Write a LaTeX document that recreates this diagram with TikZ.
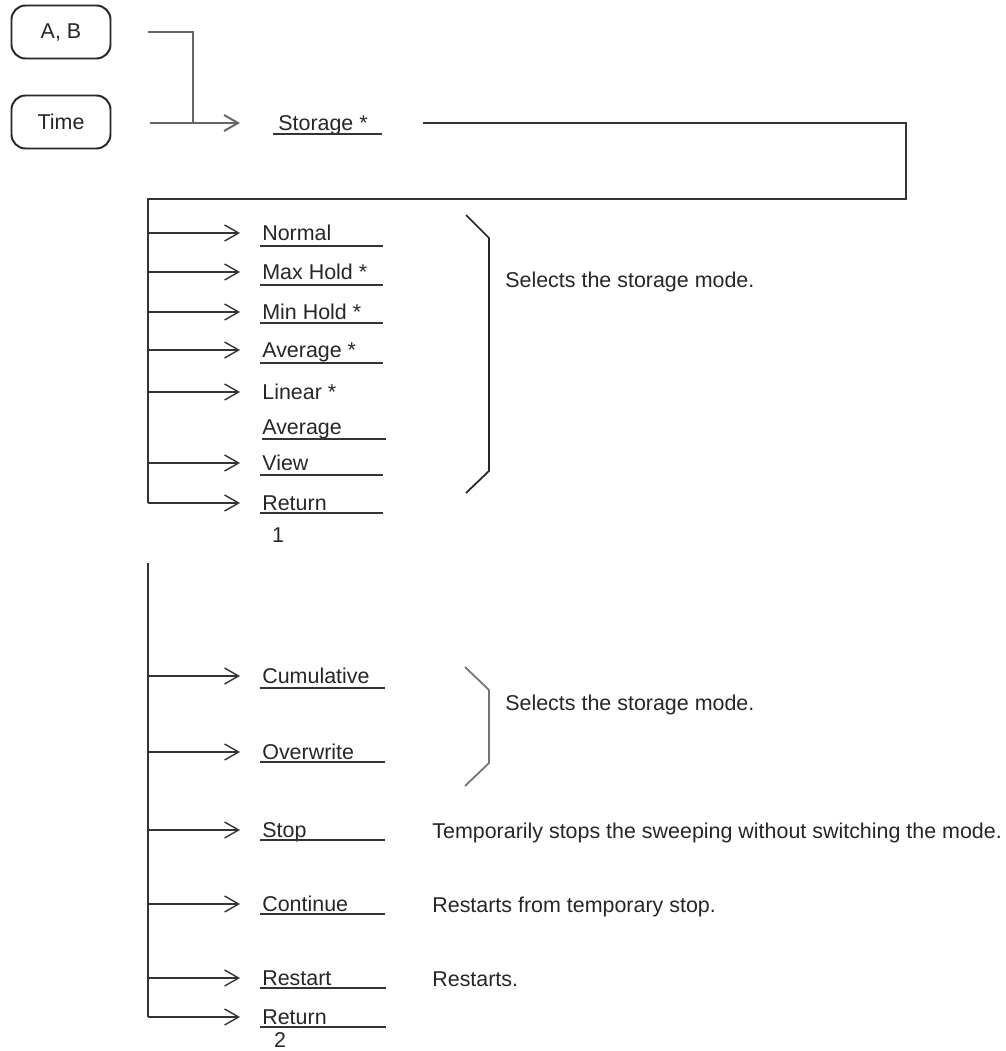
\documentclass[tikz,border=0pt]{standalone}
\usepackage{fontspec}
\setmainfont{Liberation Sans}
\usetikzlibrary{arrows.meta}

\begin{document}
\begin{tikzpicture}[x=0.02cm, y=-0.02cm,
    every node/.style={font=\fontsize{12.2}{14}\selectfont, text=black!85},
    keybox/.style={draw=black!85, line width=1.1pt, rounded corners=8pt, minimum width=1.98cm, minimum height=1.06cm},
    item/.style={anchor=west, inner xsep=0.44cm, inner ysep=0pt, text height=8.7pt, text depth=0pt},
    note/.style={anchor=base west, inner sep=0pt},
    bus/.style={black!80, line width=1.1pt},
    link/.style={black!60, line width=1.1pt},
    feed/.style={-{Straight Barb[length=2.8mm,width=3.2mm]}, black!80, line width=0.8pt},
    uline/.style={black!80, line width=1.1pt},
    brace/.style={black!85, line width=1pt}]
    \useasboundingbox (0,0) rectangle (1005,1051);
    % Keys
    \node[keybox] (ab) at (61,32) {A, B};
    \node[keybox] (time) at (61,122) {Time};
    \coordinate (join) at (193,123);
    % Storage
    \node[item, inner xsep=0.76cm] (storage) at (240,123) {Storage *};
    \draw[uline] (273,134) -- (382,134);
    \draw[link] ([xshift=0.74cm]ab.east) -| (join);
    \draw[feed, black!60, line width=1.1pt] ([xshift=0.78cm]time.east |- storage.west) -- (storage.west);
    \coordinate (stotail) at (423,123);
    \coordinate (corner) at (906,199);
    \coordinate (bus1) at (148,199);
    % Storage mode menu
    \node[item] (normal) at (240,233) {Normal};
    \draw[uline] (260,246) -- (383,246);
    \node[item] (maxhold) at (240,272) {Max Hold *};
    \draw[uline] (260,285) -- (383,285);
    \node[item] (minhold) at (240,312) {Min Hold *};
    \draw[uline] (260,323) -- (383,323);
    \node[item] (average) at (240,350) {Average *};
    \draw[uline] (260,363) -- (383,363);
    \node[item] (linear) at (240,392) {Linear *};
    \node[note] (linavg) at (262,434) {Average};
    \draw[uline] (262,439) -- (386,439);
    \node[item] (view) at (240,463) {View};
    \draw[uline] (260,475) -- (383,475);
    \node[item] (return1) at (240,503) {Return};
    \draw[uline] (260,513) -- (383,513);
    \node (one) at (278,535) {1};
    \draw[bus] (stotail) -| (corner) -- (bus1) -- (bus1 |- return1.west);
    \draw[feed] (bus1 |- normal.west) -- (normal.west);
    \draw[feed] (bus1 |- maxhold.west) -- (maxhold.west);
    \draw[feed] (bus1 |- minhold.west) -- (minhold.west);
    \draw[feed] (bus1 |- average.west) -- (average.west);
    \draw[feed] (bus1 |- linear.west) -- (linear.west);
    \draw[feed] (bus1 |- view.west) -- (view.west);
    \draw[feed] (bus1 |- return1.west) -- (return1.west);
    \draw[brace] (466,215) -- (489,238) -- (489,471) -- (466,493);
    \node[note] (sel1) at (505,287) {Selects the storage mode.};
    % Sweep menu
    \coordinate (bus2) at (148,563);
    \node[item] (cumul) at (240,676) {Cumulative};
    \draw[uline] (260,688) -- (385,688);
    \node[item] (overwr) at (240,752) {Overwrite};
    \draw[uline] (260,762) -- (385,762);
    \node[item] (stop) at (240,830) {Stop};
    \draw[uline] (260,840) -- (385,840);
    \node[item] (cont) at (240,904) {Continue};
    \draw[uline] (260,914) -- (385,914);
    \node[item] (restart) at (240,978) {Restart};
    \draw[uline] (260,988) -- (386,988);
    \node[item] (return2) at (240,1017) {Return};
    \draw[uline] (260,1027) -- (386,1027);
    \node (two) at (280,1040) {2};
    \draw[bus] (bus2) -- (bus2 |- return2.west);
    \draw[feed] (bus2 |- cumul.west) -- (cumul.west);
    \draw[feed] (bus2 |- overwr.west) -- (overwr.west);
    \draw[feed] (bus2 |- stop.west) -- (stop.west);
    \draw[feed] (bus2 |- cont.west) -- (cont.west);
    \draw[feed] (bus2 |- restart.west) -- (restart.west);
    \draw[feed] (bus2 |- return2.west) -- (return2.west);
    \draw[brace, black!55] (465,667) -- (489,690) -- (489,763) -- (465,786);
    \node[note] (sel2) at (505,710) {Selects the storage mode.};
    \node[note] (stopnote) at (432,838) {Temporarily stops the sweeping without switching the mode.};
    \node[note] (contnote) at (432,912) {Restarts from temporary stop.};
    \node[note] (restnote) at (432,986) {Restarts.};
\end{tikzpicture}
\end{document}
